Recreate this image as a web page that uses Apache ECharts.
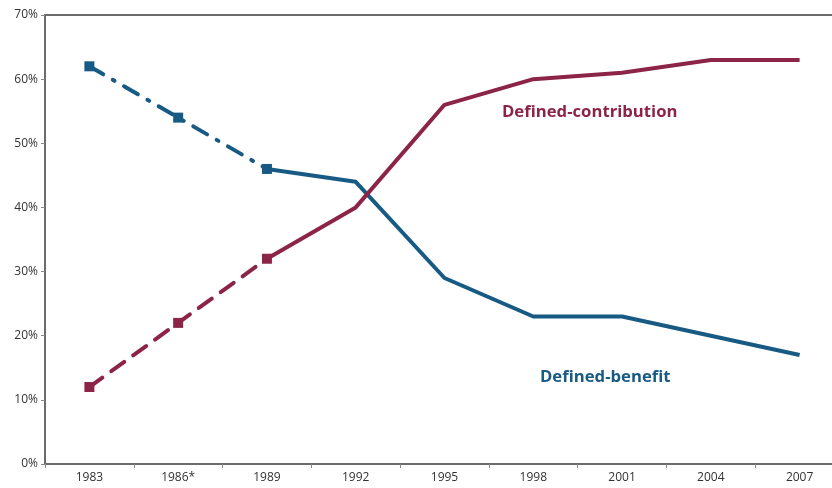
<!DOCTYPE html>
<html>
<head>
<meta charset="utf-8">
<script src="https://cdn.jsdelivr.net/npm/echarts@6/dist/echarts.min.js"></script>
<style>
  html, body { margin: 0; padding: 0; background: #fff; }
  #chart { width: 832px; height: 488px; }
</style>
</head>
<body>
<div id="chart"></div>
<script>
// Share of workers by pension plan type
const years = ['1983', '1986*', '1989', '1992', '1995', '1998', '2001', '2004', '2007'];
const definedBenefit = [62, 54, 46, 44, 29, 23, 23, 20, 17];
const definedContribution = [12, 22, 32, 40, 56, 60, 61, 63, 63];
// Years up to this index are drawn as estimated (dashed) segments
const estimatedUntil = 2;

const blue = '#175a83';
const maroon = '#8c2447';

function head(arr) { return arr.map((v, i) => (i <= estimatedUntil ? v : null)); }
function tail(arr) { return arr.map((v, i) => (i >= estimatedUntil ? v : null)); }

const chart = echarts.init(document.getElementById('chart'));
chart.setOption({
  animation: false,
  grid: {
    left: 45, right: -12, top: 15, bottom: 24,
    outerBoundsMode: 'none', containLabel: false,
    show: true, borderColor: '#6b6b6b', borderWidth: 2
  },
  xAxis: {
    type: 'category',
    data: years,
    boundaryGap: true,
    axisLine: { lineStyle: { color: '#6b6b6b', width: 2 } },
    axisTick: { show: true, length: 4, lineStyle: { color: '#888' } },
    axisLabel: { color: '#333', fontSize: 12, fontFamily: 'Open Sans', margin: 8 },
    splitLine: { show: false }
  },
  yAxis: {
    type: 'value',
    min: 0, max: 70, interval: 10,
    axisLine: { show: true, lineStyle: { color: '#6b6b6b', width: 2 } },
    axisTick: { show: true, length: 4, lineStyle: { color: '#888' } },
    axisLabel: { color: '#333', fontSize: 12, fontFamily: 'Open Sans', margin: 7, formatter: '{value}%' },
    splitLine: { show: false }
  },
  series: [
    {
      type: 'line', data: head(definedBenefit),
      symbol: 'rect', symbolSize: 10, showSymbol: true,
      itemStyle: { color: blue },
      lineStyle: { color: blue, width: 4, type: [16, 11, 2, 11], cap: 'round' }
    },
    {
      type: 'line', data: tail(definedBenefit),
      showSymbol: false, symbol: 'none',
      lineStyle: { color: blue, width: 4 }
    },
    {
      type: 'line', data: head(definedContribution),
      symbol: 'rect', symbolSize: 10, showSymbol: true,
      itemStyle: { color: maroon },
      lineStyle: { color: maroon, width: 4, type: [16, 11], cap: 'round' }
    },
    {
      type: 'line', data: tail(definedContribution),
      showSymbol: false, symbol: 'none',
      lineStyle: { color: maroon, width: 4 }
    }
  ],
  graphic: [
    { type: 'text', left: 502, top: 104,
      style: { text: 'Defined-contribution', fill: maroon, font: 'bold 16.7px "Open Sans"' } },
    { type: 'text', left: 540, top: 369,
      style: { text: 'Defined-benefit', fill: blue, font: 'bold 16.7px "Open Sans"' } }
  ]
});
</script>
</body>
</html>
